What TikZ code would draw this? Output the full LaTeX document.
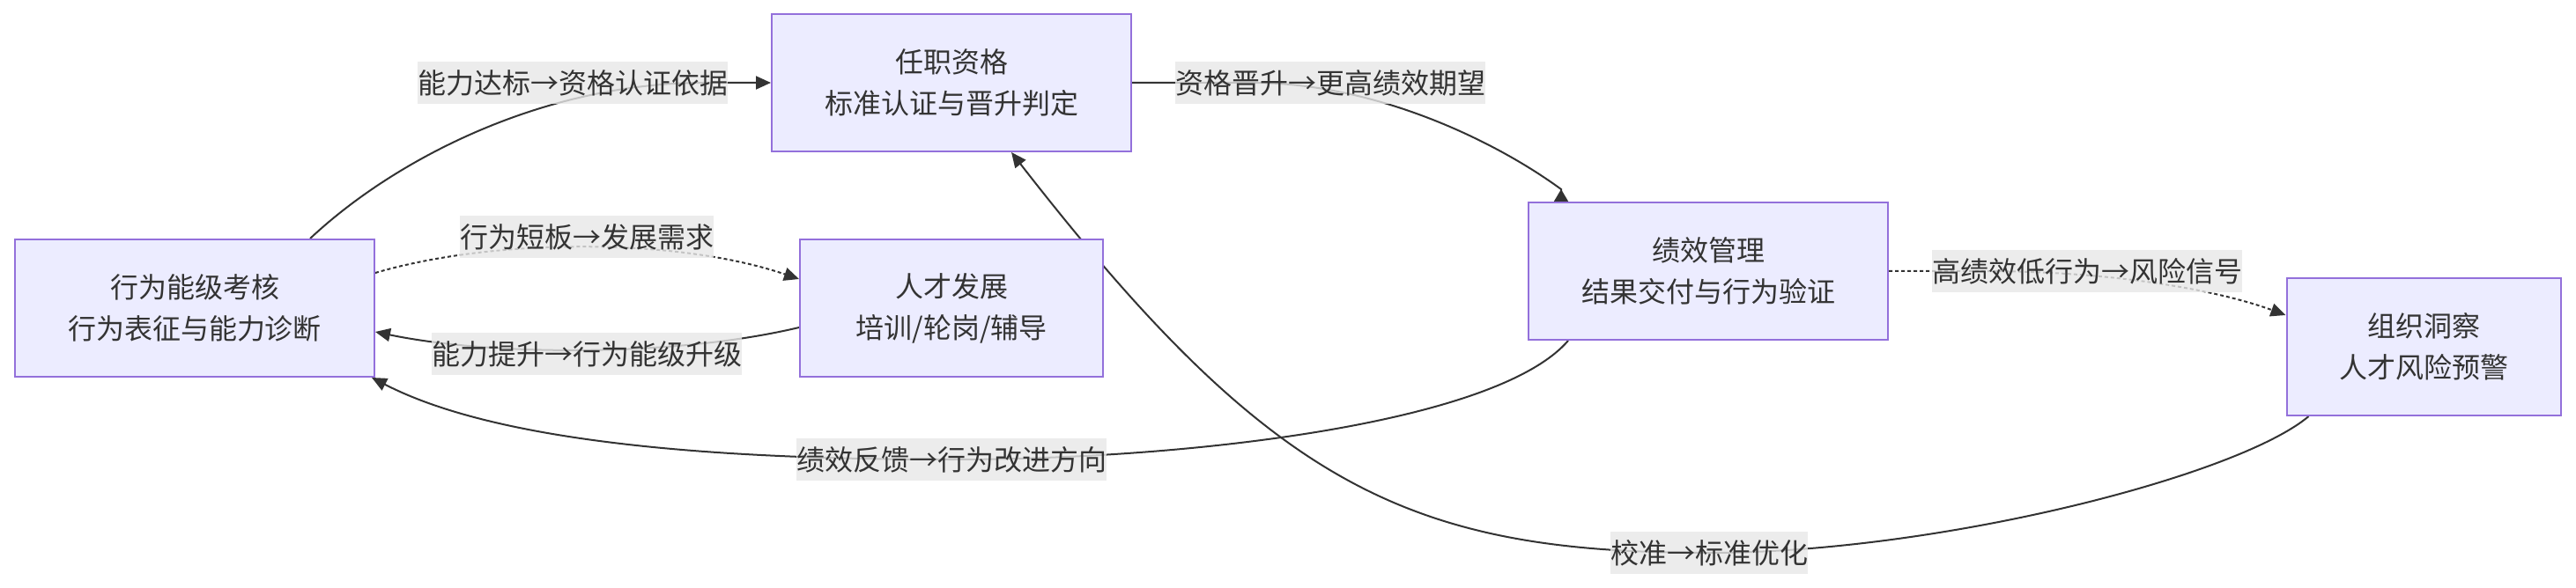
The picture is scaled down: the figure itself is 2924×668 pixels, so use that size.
\documentclass[tikz,border=0pt]{standalone}
\usepackage{fontspec}
\newfontfamily\cjk{Noto Sans CJK SC}
\usetikzlibrary{arrows.meta,calc}
\definecolor{nodefill}{HTML}{ECECFF}
\definecolor{nodeborder}{HTML}{9370DB}
\definecolor{ink}{HTML}{333333}
\definecolor{lblbg}{HTML}{E8E8E8}
\pgfdeclarelayer{bg}
\pgfsetlayers{bg,main}
\begin{document}
\begin{tikzpicture}[x=1pt,y=-1pt,
  box/.style={draw=nodeborder, fill=nodefill, line width=2pt, minimum height=156pt, inner sep=0pt, align=center, text=ink, font=\cjk\fontsize{32}{47}\selectfont},
  lbl/.style={fill=lblbg, fill opacity=0.8, text opacity=1, text=ink, inner sep=0pt, minimum height=48pt, font=\cjk\fontsize{32}{48}\selectfont},
  conn/.style={draw=ink, line width=2pt, -{Triangle[length=17pt,width=15pt]}},
  dotconn/.style={conn, dash pattern=on 4pt off 3pt}
]
\useasboundingbox (0,0) rectangle (2924,668);

\node[box, minimum width=408pt] (A) at (221,350) {行为能级考核\\行为表征与能力诊断};
\node[box, minimum width=408pt] (B) at (1080,94) {任职资格\\标准认证与晋升判定};
\node[box, minimum width=344pt] (C) at (1080,350) {人才发展\\培训/轮岗/辅导};
\node[box, minimum width=408pt] (D) at (1939,308) {绩效管理\\结果交付与行为验证};
\node[box, minimum width=311pt] (E) at (2751,394) {组织洞察\\人才风险预警};

\node[lbl] (L1) at (650,94) {能力达标→资格认证依据};
\node[lbl] (L2) at (1510,94) {资格晋升→更高绩效期望};
\node[lbl] (L3) at (666,269) {行为短板→发展需求};
\node[lbl] (L4) at (666,402) {能力提升→行为能级升级};
\node[lbl] (L5) at (1080,522) {绩效反馈→行为改进方向};
\node[lbl] (L6) at (2369,308) {高绩效低行为→风险信号};
\node[lbl] (L7) at (1940,628) {校准→标准优化};

\begin{pgfonlayer}{bg}
\fill[white] (0,0) rectangle (2924,668);
\draw[conn] ($(A.north)+(131,0)$) .. controls +(98,-92) and +(-180,0) .. ($(B.west)+(-76,0)$) -- (B.west);
\draw[draw=ink, line width=2pt, -{Triangle[reversed,length=14pt,width=16pt]}] (B.east) -- ($(B.east)+(136,0)$) .. controls +(140,0) and +(-75,-55) .. ($(D.north west)+(38,-14)$) -- ($(D.north west)+(38,0)$);
\draw[dotconn] ($(A.east)+(0,-40)$) .. controls +(135,-40) and +(-138,-47) .. ($(C.west)+(0,-33)$);
\draw[conn] ($(C.west)+(0,22)$) .. controls +(-138,33) and +(135,28) .. ($(A.east)+(0,27)$);
\draw[conn] ($(D.south west)+(46,0)$) .. controls +(-81,94) and +(270,0) .. (L5.center) .. controls +(-280,0) and +(139,72) .. ($(A.south east)+(-4,0)$);
\draw[dotconn] (D.east) -- ($(D.east)+(107,0)$) .. controls +(150,0) and +(-76,-28) .. ($(E.west)+(0,-36)$);
\draw[conn] ($(E.south west)+(26,0)$) .. controls +(-81,68) and +(260,0) .. (L7.center) .. controls +(-340,0) and +(296,381) .. ($(B.south)+(68,0)$);
\end{pgfonlayer}
\end{tikzpicture}
\end{document}
